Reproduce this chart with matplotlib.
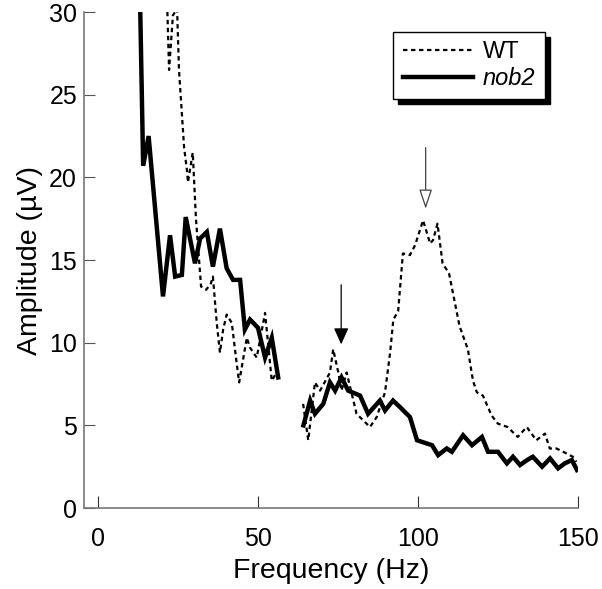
import matplotlib
matplotlib.use('Agg')
import matplotlib.pyplot as plt

plt.rcParams['font.family'] = ['Liberation Sans', 'DejaVu Sans']

# nob2 (solid), two recorded segments
nob2_f1 = [13.1, 14.1, 15.8, 20.3, 22.5, 24.1, 26.2, 27.4, 30.3, 31.9, 34.0, 35.9, 38.1, 40.2, 42.2,
           44.4, 45.9, 47.5, 50.0, 52.2, 54.3, 56.3]
nob2_a1 = [31.0, 20.7, 22.5, 12.8, 16.5, 14.0, 14.1, 17.6, 14.8, 16.3, 16.7, 14.6, 16.9, 14.5, 13.8,
           13.8, 10.8, 11.4, 10.9, 9.1, 10.3, 7.9]
nob2_f2 = [64.2, 66.3, 67.8, 70.4, 72.5, 74.1, 76.1, 78.2, 81.9, 84.4, 88.1, 89.7, 92.2, 94.4, 97.5,
           99.7, 102.8, 104.4, 106.3, 109.0, 110.6, 114.1, 116.9, 120.0, 121.9, 125.0, 127.8, 129.7,
           131.9, 134.1, 135.9, 138.8, 141.3, 143.8, 145.9, 148.1, 149.7]
nob2_a2 = [5.0, 6.5, 5.7, 6.3, 7.6, 7.1, 7.9, 7.1, 6.8, 5.7, 6.5, 5.9, 6.5, 6.1, 5.5,
           4.1, 3.9, 3.8, 3.2, 3.6, 3.4, 4.4, 3.8, 4.3, 3.4, 3.4, 2.7, 3.1,
           2.6, 2.9, 3.1, 2.5, 3.0, 2.4, 2.7, 2.9, 2.3]

# WT (dotted)
wt_f1 = [21.6, 22.2, 23.4, 24.7, 25.3, 26.9, 27.8, 28.1, 29.6, 30.6, 32.2, 33.8, 35.3, 35.9, 37.1,
         38.1, 39.1, 40.2, 41.8, 43.3, 44.1, 46.5, 47.5, 49.6, 52.2, 54.3, 55.8]
wt_a1 = [30.5, 26.5, 29.8, 30.2, 26.5, 21.8, 20.4, 19.7, 21.5, 17.5, 13.4, 13.2, 13.6, 14.0, 11.2,
         9.4, 10.8, 11.7, 11.2, 8.8, 7.6, 10.3, 9.7, 9.1, 11.8, 7.7, 8.2]
wt_f2 = [64.1, 65.7, 67.8, 69.4, 72.5, 73.5, 75.1, 76.1, 77.7, 80.8, 85.0, 87.1, 89.7, 91.3, 92.3,
         93.8, 95.3, 97.5, 99.1, 101.6, 103.8, 104.7, 106.1, 107.7, 109.7, 113.0, 115.6, 117.2,
         118.4, 120.3, 123.0, 125.0, 128.0, 131.2, 134.0, 137.0, 139.7, 141.2, 143.3, 145.4,
         148.4, 149.5]
wt_a2 = [6.3, 4.1, 7.6, 7.1, 8.2, 9.6, 8.2, 7.1, 8.2, 5.7, 4.9, 5.5, 7.0, 9.4, 11.4,
         11.9, 15.4, 15.3, 15.9, 17.4, 16.0, 16.2, 17.2, 14.8, 14.2, 11.0, 9.6, 7.7,
         7.0, 6.8, 5.6, 5.1, 4.9, 4.3, 4.9, 4.1, 4.5, 3.6, 3.6, 3.4,
         3.1, 2.8]

# arrows: (x, top, tip)
arrow_nob2 = (76.0, 13.5, 9.9)
arrow_wt = (102.4, 21.8, 18.1)

fig = plt.figure(figsize=(6.02, 5.89), dpi=100)
ax = fig.add_axes([0.1395, 0.1375, 0.8205, 0.842])

dots = (0, (2.0, 1.6))
ax.plot(wt_f1, wt_a1, color='black', lw=1.6, linestyle=dots, label='WT')
ax.plot(wt_f2, wt_a2, color='black', lw=1.6, linestyle=dots)
ax.plot(nob2_f1, nob2_a1, color='black', lw=3.2, label='nob2', solid_joinstyle='miter')
ax.plot(nob2_f2, nob2_a2, color='black', lw=3.2, solid_joinstyle='miter')

x, y0, y1 = arrow_nob2
ax.annotate('', xy=(x, y1), xytext=(x, y0),
            arrowprops=dict(arrowstyle='-|>,head_length=1.0,head_width=0.45',
                            color='black', lw=0.9, shrinkA=0, shrinkB=0))
x, y0, y1 = arrow_wt
ax.annotate('', xy=(x, y1), xytext=(x, y0),
            arrowprops=dict(arrowstyle='-|>,head_length=1.2,head_width=0.4',
                            facecolor='white', edgecolor='#444444', lw=0.9,
                            shrinkA=0, shrinkB=0))

ax.set_xlim(-4.4, 150)
ax.set_ylim(0, 30)
ax.set_xticks([0, 50, 100, 150])
ax.set_yticks([0, 5, 10, 15, 20, 25, 30])
ax.spines['top'].set_visible(False)
ax.spines['right'].set_visible(False)
for s in ['left', 'bottom']:
    ax.spines[s].set_color('#777777')
    ax.spines[s].set_linewidth(1.2)
ax.tick_params(axis='y', direction='in', length=8, color='#555555', labelsize=18, pad=5)
ax.tick_params(axis='x', direction='in', length=9, color='#333333', labelsize=18, pad=14)

ax.set_xlabel('Frequency (Hz)', fontsize=20.5, labelpad=5)
ax.set_ylabel('Amplitude (\u00b5V)', fontsize=20.5, labelpad=4)

leg = ax.legend(loc='upper right', bbox_to_anchor=(0.933, 0.96), borderaxespad=0, fontsize=17,
                handlelength=3.0, handletextpad=0.4, borderpad=0.4, labelspacing=0.15,
                fancybox=False, edgecolor='black', framealpha=1,
                shadow={'color': 'black', 'alpha': 1, 'ox': 3.5, 'oy': -3.5})
leg.get_frame().set_linewidth(1.0)
leg.get_texts()[1].set_style('italic')

fig.savefig('out.png', dpi=100)
